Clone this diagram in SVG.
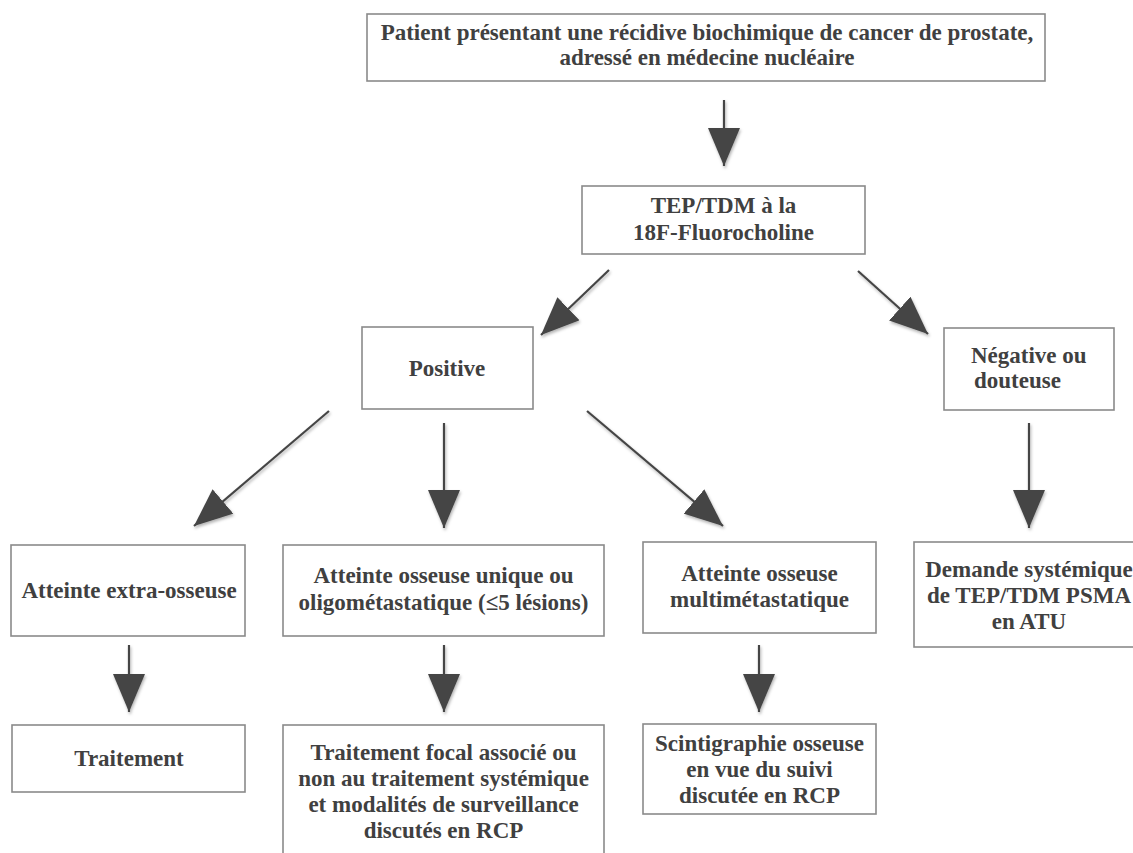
<svg xmlns="http://www.w3.org/2000/svg" width="1133" height="853" viewBox="0 0 1133 853">
  <defs>
    <style>
      .box { fill: #ffffff; stroke: #8a8a8a; stroke-width: 1.6; }
      .t { font-family: "Liberation Serif", "Times New Roman", serif; font-weight: bold; font-size: 23px; fill: #404040; text-anchor: middle; }
      .ts { text-anchor: start; }
      .conn { stroke: #454545; stroke-width: 2.2; fill: none; marker-end: url(#head); }
    </style>
    <marker id="head" markerUnits="userSpaceOnUse" viewBox="0 0 38 32" markerWidth="38" markerHeight="32" refX="38" refY="16" orient="auto">
      <path d="M0,0 L38,16 L0,32 Z" fill="#454545"/>
    </marker>
    <filter id="shadow" x="-20%" y="-20%" width="140%" height="140%">
      <feDropShadow dx="1" dy="2" stdDeviation="1.5" flood-color="#000" flood-opacity="0.3"/>
    </filter>
  </defs>
  <rect width="1133" height="853" fill="#ffffff"/>

  <g id="connectors" filter="url(#shadow)">
    <line class="conn" x1="724" y1="100" x2="724" y2="166"/>
    <line class="conn" x1="609" y1="270" x2="541" y2="335"/>
    <line class="conn" x1="858" y1="271" x2="928" y2="334"/>
    <line class="conn" x1="329" y1="411" x2="194" y2="526"/>
    <line class="conn" x1="444" y1="423" x2="444" y2="528"/>
    <line class="conn" x1="587" y1="411" x2="723" y2="526"/>
    <line class="conn" x1="1029" y1="423" x2="1029" y2="528"/>
    <line class="conn" x1="129" y1="645" x2="129" y2="712"/>
    <line class="conn" x1="444" y1="645" x2="444" y2="712"/>
    <line class="conn" x1="759" y1="645" x2="759" y2="712"/>
  </g>

  <g id="n-patient">
    <rect class="box" x="367" y="14" width="678" height="67"/>
    <text class="t" x="707" y="40">Patient présentant une récidive biochimique de cancer de prostate,</text>
    <text class="t" x="707" y="65">adressé en médecine nucléaire</text>
  </g>
  <g id="n-tep">
    <rect class="box" x="582" y="186" width="283" height="68"/>
    <text class="t" x="723.5" y="213">TEP/TDM à la</text>
    <text class="t" x="723.5" y="240">18F-Fluorocholine</text>
  </g>
  <g id="n-positive">
    <rect class="box" x="362" y="327" width="171" height="82"/>
    <text class="t" x="447" y="376">Positive</text>
  </g>
  <g id="n-negative">
    <rect class="box" x="944" y="328" width="170" height="82"/>
    <text class="t ts" x="971" y="363">Négative ou</text>
    <text class="t ts" x="974" y="388">douteuse</text>
  </g>
  <g id="n-extra">
    <rect class="box" x="11" y="545" width="234" height="91"/>
    <text class="t" x="129" y="598">Atteinte extra-osseuse</text>
  </g>
  <g id="n-unique">
    <rect class="box" x="283" y="545" width="321" height="91"/>
    <text class="t" x="443.5" y="583">Atteinte osseuse unique ou</text>
    <text class="t" x="443.5" y="610">oligométastatique (≤5 lésions)</text>
  </g>
  <g id="n-multi">
    <rect class="box" x="643" y="542" width="233" height="91"/>
    <text class="t" x="759.5" y="581">Atteinte osseuse</text>
    <text class="t" x="759.5" y="607">multimétastatique</text>
  </g>
  <g id="n-demande">
    <rect class="box" x="914" y="542" width="240" height="105"/>
    <text class="t" x="1029" y="577">Demande systémique</text>
    <text class="t" x="1029" y="603">de TEP/TDM PSMA</text>
    <text class="t" x="1029" y="629">en ATU</text>
  </g>
  <g id="n-traitement">
    <rect class="box" x="12" y="725" width="233" height="67"/>
    <text class="t" x="129" y="766">Traitement</text>
  </g>
  <g id="n-focal">
    <rect class="box" x="283" y="725" width="321" height="140"/>
    <text class="t" x="443.5" y="760">Traitement focal associé ou</text>
    <text class="t" x="443.5" y="786">non au traitement systémique</text>
    <text class="t" x="443.5" y="812">et modalités de surveillance</text>
    <text class="t" x="443.5" y="838">discutés en RCP</text>
  </g>
  <g id="n-scinti">
    <rect class="box" x="643" y="724" width="233" height="90"/>
    <text class="t" x="759.5" y="751">Scintigraphie osseuse</text>
    <text class="t" x="759.5" y="777">en vue du suivi</text>
    <text class="t" x="759.5" y="803">discutée en RCP</text>
  </g>
</svg>
